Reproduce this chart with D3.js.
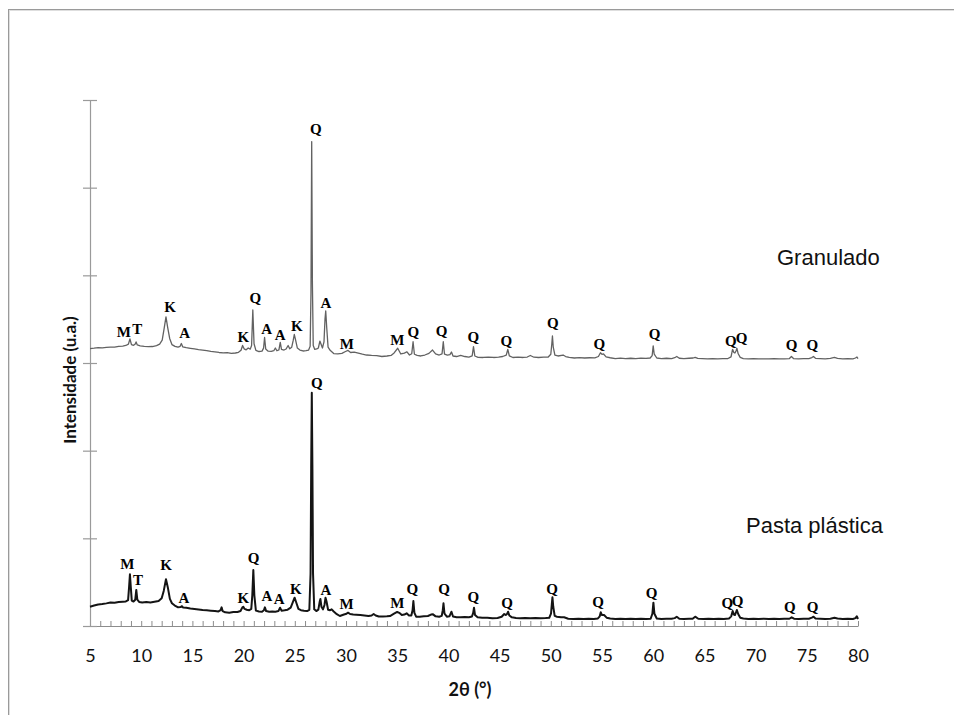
<!DOCTYPE html>
<html>
<head>
<meta charset="utf-8">
<script src="https://cdn.jsdelivr.net/npm/d3@7"></script>
<style>
  body { margin: 0; background: #fff; }
  svg { display: block; }
</style>
</head>
<body>
<svg id="chart" width="954" height="715"></svg>
<script>
// Diffractogram of the granulated sample: [2θ (°), intensity (a.u.)]
const granulado = [
  [5.0,16.5],[5.4,16.9],[5.8,17.5],[6.2,17.2],[6.6,17.9],[7.0,18.2],[7.4,18.0],[7.8,18.9],[8.2,19.2],[8.5,20.0],
  [8.75,21.5],[8.9,27.4],[9.05,21.0],[9.25,20.2],[9.4,21.5],[9.5,24.0],[9.62,20.6],[9.9,19.6],[10.3,19.0],[10.7,18.6],
  [11.1,18.8],[11.5,19.9],[11.8,21.6],[12.05,26.0],[12.25,40.0],[12.42,52.5],[12.58,41.0],[12.78,28.0],[13.0,21.0],[13.3,18.9],
  [13.6,18.0],[13.8,19.0],[13.92,22.2],[14.05,18.5],[14.4,17.6],[14.8,16.8],[15.2,16.0],[15.6,15.2],[16.0,14.8],[16.4,14.0],
  [16.8,13.2],[17.2,12.7],[17.6,12.0],[18.0,11.6],[18.4,11.9],[18.8,11.0],[19.2,11.4],[19.5,12.2],[19.75,14.6],[19.9,20.0],
  [20.05,16.2],[20.25,15.0],[20.45,17.1],[20.65,15.8],[20.78,20.0],[20.9,60.5],[21.02,22.0],[21.2,14.4],[21.5,13.1],[21.8,13.5],
  [21.95,17.0],[22.05,29.1],[22.16,16.0],[22.4,13.5],[22.7,13.2],[22.95,14.0],[23.1,17.1],[23.25,14.0],[23.45,15.0],[23.58,23.4],
  [23.7,15.6],[23.95,14.8],[24.15,16.0],[24.35,20.0],[24.5,16.2],[24.7,18.0],[24.85,26.0],[24.95,32.5],[25.08,26.0],[25.25,17.0],
  [25.5,14.8],[25.8,13.7],[26.1,14.0],[26.35,14.8],[26.5,19.0],[26.58,80.0],[26.65,252.6],[26.72,90.0],[26.8,20.0],[26.95,15.5],
  [27.15,16.0],[27.3,17.1],[27.45,25.0],[27.55,22.0],[27.7,17.1],[27.85,24.0],[27.95,50.0],[28.02,59.3],[28.12,40.0],[28.25,18.0],
  [28.45,14.5],[28.8,10.8],[29.2,10.5],[29.6,11.0],[29.95,13.1],[30.2,14.3],[30.45,12.0],[30.8,12.5],[31.2,11.2],[31.6,10.0],
  [32.0,9.1],[32.5,8.6],[33.0,8.3],[33.5,7.4],[34.0,8.0],[34.4,8.6],[34.7,11.5],[35.05,16.8],[35.35,10.3],[35.7,11.2],
  [35.95,12.8],[36.2,9.1],[36.42,10.5],[36.55,24.3],[36.68,10.0],[36.95,8.6],[37.3,8.0],[37.7,9.1],[38.1,11.0],[38.45,14.8],
  [38.75,10.3],[39.1,9.1],[39.38,10.5],[39.5,24.3],[39.62,10.0],[39.9,9.0],[40.15,9.5],[40.3,12.5],[40.45,8.0],[40.8,7.4],
  [41.2,8.6],[41.6,7.4],[42.0,6.8],[42.32,8.0],[42.45,18.6],[42.58,8.0],[42.9,6.5],[43.4,6.3],[43.9,6.8],[44.4,6.3],
  [44.9,6.6],[45.3,7.4],[45.65,9.0],[45.8,15.6],[45.95,8.2],[46.3,6.3],[46.8,6.6],[47.3,6.3],[47.7,6.8],[48.0,8.6],
  [48.35,6.6],[48.8,6.3],[49.3,6.6],[49.75,6.8],[50.0,10.0],[50.1,22.0],[50.16,30.8],[50.24,18.0],[50.4,9.0],[50.7,8.0],
  [51.2,9.1],[51.45,7.4],[51.8,6.3],[52.3,5.7],[52.8,6.1],[53.3,5.7],[53.8,6.0],[54.3,5.9],[54.65,7.4],[54.85,11.7],
  [55.0,9.8],[55.15,10.3],[55.4,7.0],[55.8,6.0],[56.3,5.1],[56.8,5.5],[57.3,5.1],[57.8,5.4],[58.3,5.1],[58.8,5.6],
  [59.3,5.3],[59.7,5.7],[59.9,8.5],[60.0,19.6],[60.1,10.0],[60.35,5.7],[60.8,5.1],[61.3,5.4],[61.8,5.1],[62.1,6.0],
  [62.3,7.4],[62.55,5.4],[63.0,5.1],[63.5,5.4],[63.9,5.7],[64.1,6.5],[64.35,5.3],[64.8,5.0],[65.3,4.6],[65.8,4.9],
  [66.3,4.6],[66.8,4.9],[67.3,5.1],[67.6,7.0],[67.75,15.6],[67.88,12.0],[67.98,11.4],[68.1,14.0],[68.17,16.8],[68.3,10.5],
  [68.5,6.5],[68.8,5.1],[69.3,4.6],[69.8,4.9],[70.3,4.6],[70.8,4.8],[71.3,4.6],[71.8,4.9],[72.3,4.6],[72.8,4.8],
  [73.3,5.1],[73.5,7.4],[73.7,5.1],[74.2,4.8],[74.7,5.0],[75.2,5.1],[75.5,6.2],[75.65,7.4],[75.85,5.3],[76.3,5.1],
  [76.8,4.8],[77.3,5.3],[77.7,6.3],[78.0,5.2],[78.5,4.8],[79.0,5.0],[79.5,4.8],[79.75,5.7],[79.9,6.8],[80.0,5.1]
];

// Diffractogram of the plastic paste: [2θ (°), intensity (a.u.)]
const pastaPlastica = [
  [5.0,22.0],[5.4,23.4],[5.8,24.5],[6.2,25.0],[6.6,25.8],[7.0,26.8],[7.4,26.5],[7.8,27.4],[8.2,27.7],[8.5,28.0],
  [8.72,29.5],[8.82,45.0],[8.9,59.0],[8.98,45.0],[9.08,29.0],[9.25,27.9],[9.42,30.0],[9.52,41.1],[9.62,30.0],[9.8,27.4],
  [10.1,26.8],[10.5,27.4],[10.9,26.9],[11.3,27.7],[11.7,28.6],[12.0,31.6],[12.2,40.0],[12.42,53.3],[12.6,44.0],[12.8,31.0],
  [13.0,26.0],[13.25,23.6],[13.6,21.3],[13.85,21.6],[13.98,22.6],[14.1,21.0],[14.4,20.9],[14.8,19.9],[15.2,19.4],[15.6,18.8],
  [16.0,18.2],[16.4,17.9],[16.8,17.5],[17.2,17.2],[17.55,16.6],[17.75,18.0],[17.85,21.3],[17.95,17.0],[18.2,15.6],[18.6,15.2],
  [19.0,15.9],[19.4,16.0],[19.7,17.1],[19.87,21.0],[19.97,22.0],[20.1,19.5],[20.3,18.6],[20.55,18.0],[20.75,19.5],[20.85,35.0],
  [20.95,63.9],[21.05,35.0],[21.2,17.5],[21.5,16.5],[21.8,16.3],[21.98,18.0],[22.08,21.3],[22.2,17.0],[22.5,16.3],[22.8,16.5],
  [23.1,16.3],[23.4,17.0],[23.56,20.9],[23.7,17.5],[24.0,18.0],[24.3,18.6],[24.6,21.0],[24.8,27.0],[24.98,32.3],[25.15,26.5],
  [25.35,19.5],[25.6,18.0],[25.9,17.5],[26.2,17.1],[26.42,18.5],[26.54,60.0],[26.6,180.0],[26.66,266.1],[26.72,180.0],[26.78,60.0],
  [26.9,19.0],[27.1,17.0],[27.3,18.6],[27.42,27.0],[27.5,30.8],[27.6,22.0],[27.75,19.0],[27.9,24.0],[28.0,32.3],[28.1,28.0],
  [28.25,18.6],[28.45,18.0],[28.6,19.0],[28.8,16.5],[29.1,13.5],[29.4,11.4],[29.8,13.1],[30.05,14.0],[30.2,15.2],[30.4,13.7],
  [30.7,13.1],[31.0,12.9],[31.4,12.5],[31.8,12.0],[32.2,11.4],[32.5,12.0],[32.7,13.7],[32.9,12.0],[33.2,10.8],[33.6,10.8],
  [34.0,11.0],[34.3,11.4],[34.65,13.7],[35.0,16.0],[35.2,15.0],[35.45,12.5],[35.7,13.0],[35.92,14.5],[36.15,12.0],[36.38,12.0],
  [36.5,18.0],[36.58,28.5],[36.68,15.0],[36.85,10.6],[37.2,10.6],[37.6,11.0],[38.0,11.4],[38.3,13.0],[38.5,13.3],[38.75,11.0],
  [39.1,10.6],[39.35,11.5],[39.45,18.0],[39.52,25.9],[39.62,14.0],[39.85,10.6],[40.1,11.0],[40.3,16.3],[40.45,10.8],[40.8,9.9],
  [41.2,9.9],[41.6,10.3],[42.0,9.9],[42.3,10.8],[42.42,15.0],[42.5,20.9],[42.6,12.5],[42.85,9.9],[43.3,9.5],[43.8,9.5],
  [44.3,8.8],[44.8,9.1],[45.2,10.5],[45.45,13.7],[45.6,12.5],[45.75,14.0],[45.83,16.3],[45.95,12.0],[46.2,9.9],[46.6,9.1],
  [47.0,8.8],[47.5,9.1],[48.0,8.8],[48.5,9.1],[49.0,8.8],[49.5,9.0],[49.85,9.4],[50.02,14.0],[50.1,25.0],[50.16,32.7],
  [50.24,22.0],[50.38,11.5],[50.6,10.6],[51.0,9.9],[51.3,9.9],[51.7,8.3],[52.2,8.0],[52.7,8.3],[53.2,8.0],[53.7,8.3],
  [54.2,8.0],[54.6,8.6],[54.78,11.0],[54.88,15.6],[55.0,12.5],[55.2,12.5],[55.45,9.5],[55.8,8.6],[56.3,8.0],[56.8,8.3],
  [57.3,8.0],[57.8,8.3],[58.3,8.0],[58.8,8.2],[59.3,8.0],[59.75,8.3],[59.92,14.0],[60.02,26.6],[60.12,14.0],[60.35,8.6],
  [60.8,8.0],[61.3,8.3],[61.8,8.3],[62.1,9.0],[62.3,10.6],[62.55,8.3],[63.0,8.0],[63.5,8.3],[63.85,8.2],[64.1,10.6],
  [64.4,8.3],[64.9,8.0],[65.4,8.3],[65.9,8.0],[66.4,8.2],[66.9,8.0],[67.4,8.6],[67.62,11.0],[67.76,17.1],[67.88,13.0],
  [67.98,12.5],[68.1,16.0],[68.17,18.2],[68.3,13.7],[68.5,9.5],[68.8,8.5],[69.3,8.0],[69.8,8.2],[70.3,8.0],[70.8,8.3],
  [71.3,8.0],[71.8,8.2],[72.3,8.0],[72.8,8.3],[73.3,8.3],[73.52,9.9],[73.75,8.3],[74.2,8.0],[74.7,8.3],[75.2,8.3],
  [75.5,9.5],[75.66,10.6],[75.85,8.6],[76.3,8.3],[76.8,8.0],[77.3,8.3],[77.7,9.5],[78.0,8.5],[78.5,8.0],[79.0,8.3],
  [79.5,8.0],[79.75,9.0],[79.88,11.1],[80.0,8.0]
];

// Phase identification: [phase letter, 2θ of the label, intensity of the label]
// M = mica, T = talc, K = kaolinite, A = albite, Q = quartz
const granuladoPhases = [
  ["M",8.31,30.0],["T",9.61,33.1],["K",12.82,58.5],["A",14.25,28.2],["K",19.97,24.3],["Q",21.14,68.1],
  ["A",22.25,32.7],["A",23.58,26.2],["K",25.21,36.8],["Q",27.06,260.9],["A",28.03,62.4],["M",30.08,16.0],
  ["M",35.02,20.5],["Q",36.58,30.0],["Q",39.34,30.8],["Q",42.43,23.6],["Q",45.67,19.7],["Q",50.19,39.6],
  ["Q",54.74,16.0],["Q",60.13,27.4],["Q",67.57,19.4],["Q",68.64,22.5],["Q",73.52,14.8],["Q",75.53,14.8]
];
const pastaPhases = [
  ["M",8.64,65.0],["T",9.68,46.8],["K",12.44,63.9],["A",14.16,25.9],["K",19.97,26.6],["Q",20.98,71.5],
  ["A",22.28,28.5],["A",23.48,24.8],["K",25.11,36.2],["Q",27.15,271.5],["A",28.03,35.4],["M",30.05,19.4],
  ["M",35.02,20.2],["Q",36.49,36.2],["Q",39.57,36.2],["Q",42.43,27.7],["Q",45.74,20.2],["Q",50.13,36.2],
  ["Q",54.61,22.0],["Q",59.84,31.6],["Q",67.24,20.9],["Q",68.25,22.8],["Q",73.35,16.3],["Q",75.56,16.3]
];

const sampleNames = ["Granulado", "Pasta plástica"];
const xTickValues = [5,10,15,20,25,30,35,40,45,50,55,60,65,70,75,80];
const xMinorTicks = d3.range(5, 81, 1);
const yTickValues = [0,100,200,300,400,500,600];
const granuladoOffset = 300;   // vertical shift that stacks the granulado pattern above the paste

const svg = d3.select("#chart");

// outer frame (only its top and left edges fall inside the view)
svg.append("line").attr("x1", 8).attr("x2", 954).attr("y1", 9.5).attr("y2", 9.5)
  .attr("stroke", "#9a9a9a").attr("stroke-width", 1);
svg.append("line").attr("x1", 8.5).attr("x2", 8.5).attr("y1", 9).attr("y2", 715)
  .attr("stroke", "#9a9a9a").attr("stroke-width", 1);
svg.append("line").attr("x1", 9).attr("x2", 954).attr("y1", 10.5).attr("y2", 10.5)
  .attr("stroke", "#dedede").attr("stroke-width", 1);
svg.append("line").attr("x1", 9.5).attr("x2", 9.5).attr("y1", 10).attr("y2", 715)
  .attr("stroke", "#dedede").attr("stroke-width", 1);

const x = d3.scaleLinear().domain([5, 80]).range([90, 858]);
const y = d3.scaleLinear().domain([0, 600]).range([626, 100]);

// x axis: minor ticks every degree, pointing into the plot
const xMinor = svg.append("g").attr("transform", "translate(0,626)")
  .call(d3.axisBottom(x).tickValues(xMinorTicks).tickSizeInner(-5).tickSizeOuter(0).tickFormat(""));
xMinor.select(".domain").attr("stroke", "#8c8c8c").attr("stroke-width", 1);
xMinor.selectAll(".tick line").attr("stroke", "#8c8c8c");

// x axis labels
const xLabels = svg.append("g").attr("transform", "translate(0,626)")
  .call(d3.axisBottom(x).tickValues(xTickValues).tickSize(0).tickPadding(23).tickFormat(d3.format("d")));
xLabels.select(".domain").remove();
xLabels.selectAll("text").attr("font-family", "Lato, 'Open Sans', sans-serif")
  .attr("font-size", 18).attr("fill", "#111");

// y axis: crossing ticks, no labels
const yAxis = svg.append("g").attr("transform", "translate(90,0)")
  .call(d3.axisLeft(y).tickValues(yTickValues).tickSizeOuter(0).tickFormat(""));
yAxis.select(".domain").attr("stroke", "#9a9a9a").attr("stroke-width", 1.2);
yAxis.selectAll(".tick line").attr("x1", -7).attr("x2", 7).attr("stroke", "#9a9a9a").attr("stroke-width", 1.2);

// axis titles
svg.append("text").attr("x", 470).attr("y", 696).attr("text-anchor", "middle")
  .attr("font-family", "Lato, 'Open Sans', sans-serif").attr("font-weight", "bold")
  .attr("font-size", 18).attr("fill", "#111").text("2θ (°)");
svg.append("text").attr("transform", "translate(76,380) rotate(-90)").attr("text-anchor", "middle")
  .attr("font-family", "Lato, 'Open Sans', sans-serif").attr("font-weight", "bold")
  .attr("font-size", 17).attr("fill", "#111").text("Intensidade (u.a.)");

// diffraction patterns
const lineGranulado = d3.line().x(d => x(d[0])).y(d => y(d[1] + granuladoOffset));
const linePasta = d3.line().x(d => x(d[0])).y(d => y(d[1]));

svg.append("path").datum(granulado).attr("d", lineGranulado)
  .attr("fill", "none").attr("stroke", "#626262").attr("stroke-width", 1.3).attr("stroke-linejoin", "round");
svg.append("path").datum(pastaPlastica).attr("d", linePasta)
  .attr("fill", "none").attr("stroke", "#141414").attr("stroke-width", 2).attr("stroke-linejoin", "round");

// phase labels
function drawPhases(rows, offset) {
  svg.append("g").selectAll("text").data(rows).join("text")
    .attr("x", d => x(d[1])).attr("y", d => y(d[2] + offset))
    .attr("text-anchor", "middle")
    .attr("font-family", "'Liberation Serif', 'Times New Roman', serif")
    .attr("font-weight", "bold").attr("font-size", 15).attr("fill", "#000")
    .text(d => d[0]);
}
drawPhases(granuladoPhases, granuladoOffset);
drawPhases(pastaPhases, 0);

// sample names
svg.append("text").attr("x", 777).attr("y", 265)
  .attr("font-family", "'Liberation Sans', Arial, sans-serif").attr("font-size", 22).attr("fill", "#111")
  .text(sampleNames[0]);
svg.append("text").attr("x", 746).attr("y", 533)
  .attr("font-family", "'Liberation Sans', Arial, sans-serif").attr("font-size", 22).attr("fill", "#111")
  .text(sampleNames[1]);
</script>
</body>
</html>
